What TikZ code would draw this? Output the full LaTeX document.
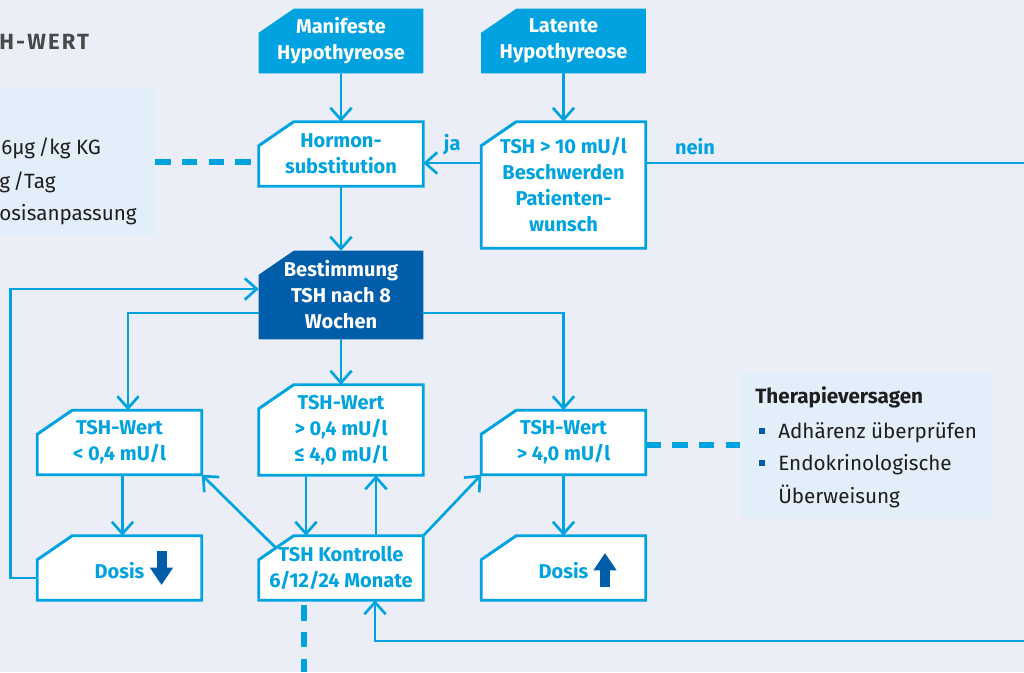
\documentclass[tikz,border=0pt]{standalone}
\usepackage{fontspec}
\setmainfont{Fira Sans}
\newfontfamily\spacedfont[LetterSpace=10]{Fira Sans}
\usepackage{tikz}
\usetikzlibrary{arrows.meta,calc,backgrounds}
\usepackage{xcolor}
\definecolor{tshcyan}{HTML}{00A3E0}
\definecolor{tshdark}{HTML}{005DA9}
\definecolor{tshbg}{HTML}{EBEEF7}
\definecolor{tshpale}{HTML}{E2EEF9}
\definecolor{tshgrey}{HTML}{48494B}
\definecolor{tshink}{HTML}{1E1E1E}

% Rahmen mit abgeschraegter Ecke oben links
\newcommand{\cutframe}[2]{%
  \path[#2] ($(#1.north west)+(0,24)$) -- ($(#1.north west)+(35,0)$)
    -- (#1.north east) -- (#1.south east) -- (#1.south west) -- cycle;}

\begin{document}
\begin{tikzpicture}[
    x=0.75pt, y=-0.75pt,
    box/.style={minimum width=123pt, minimum height=48pt, inner sep=0pt,
        align=center, text=tshcyan, font=\bfseries\fontsize{15}{19.5}\selectfont,
        execute at begin node={\rule{0pt}{15.5pt}}},
    fullbox/.style={box, text=white},
    frame/.style={draw=tshcyan, line width=2.2pt, fill=white},
    conn/.style={draw=tshcyan, line width=2pt},
    arr/.style={conn, -{Straight Barb[length=9pt,width=16pt]}},
    dashlink/.style={draw=tshcyan, line width=3.8pt, dash pattern=on 11.5pt off 8.5pt},
    lbl/.style={text=tshcyan, font=\bfseries\fontsize{15}{17}\selectfont},
    infobox/.style={fill=tshpale, inner sep=0pt},
    info/.style={anchor=base west, inner sep=0pt, text=tshink, font=\fontsize{15.5}{17}\selectfont},
    dosispfeil/.style={draw=tshdark, line width=7.5pt, -{Triangle[length=13pt,width=16.5pt]}}
]
\useasboundingbox (0,0) rectangle (1024,672);

% Ueberschrift und Infokaesten
\node[anchor=base west, inner sep=0pt, text=tshgrey,
      font=\spacedfont\bfseries\fontsize{16.5}{19}\selectfont] (titel) at (-1,49) {H-WERT};
\node[infobox, minimum width=117.75pt, minimum height=111pt] (dosisinfo) at (76.5,162) {};
\node[info] (dosis1) at (1,154) {6µg\,/kg KG};
\node[info] (dosis2) at (-1,188) {g\,/Tag};
\node[info] (dosis3) at (-1,220) {osisanpassung};

\node[infobox, minimum width=189.75pt, minimum height=109.5pt] (therapie) at (866.5,445) {};
\node[info, font=\bfseries\fontsize{15.5}{17}\selectfont] (versagen) at (755,403) {Therapieversagen};
\node[info] (adhaerenz) at (778,438) {Adhärenz überprüfen};
\node[info] (endo) at (778,470) {Endokrinologische};
\node[info] (ueberw) at (778,503) {Überweisung};
\foreach \b in {adhaerenz,endo}
  \fill[tshdark] ($(\b.base west)+(-19,-10)$) rectangle ++(6,6);

% Flussdiagramm
\node[fullbox] (manif) at (341,41) {Manifeste\\Hypothyreose};
\node[fullbox] (latent) at (563.5,41) {Latente\\Hypothyreose};
\node[box] (hormon) at (341,154) {Hormon-\\substitution};
\node[box, minimum height=94.5pt] (tshten) at (563.5,185) {TSH > 10 mU/l\\Beschwerden\\Patienten-\\wunsch};
\node[fullbox, minimum height=66pt] (bestimm) at (341,295) {Bestimmung\\TSH nach 8\\Wochen};
\node[box] (low) at (119.5,442.5) {TSH-Wert\\< 0,4 mU/l};
\node[box, minimum height=67.5pt] (normal) at (341,430) {TSH-Wert\\> 0,4 mU/l\\≤ 4,0 mU/l};
\node[box] (high) at (563.5,442.5) {TSH-Wert\\> 4,0 mU/l};
\node[box] (dosisab) at (119.5,568) {Dosis};
\node[box] (kontrolle) at (341,568) {TSH Kontrolle\\6/12/24 Monate};
\node[box] (dosisauf) at (563.5,568) {Dosis};

\coordinate (nein) at (1024,163);
\coordinate (rueck) at (1024,641);
\coordinate (weiter) at (304,672);

\draw[arr] (manif) -- (hormon);
\draw[arr] (latent) -- (tshten);
\draw[arr] (tshten.west |- nein) -- (hormon.east |- nein) node[lbl, midway, above=2pt] {ja};
\draw[conn] (tshten.east |- nein) -- (nein) node[lbl, pos=0.13, above=2pt] {nein};
\draw[arr] (hormon) -- (bestimm);
\draw[arr] ($(bestimm.west)+(0,18)$) -| ($(low.north)+(8.5,0)$);
\draw[arr] ($(bestimm.east)+(0,18)$) -| (high.north);
\draw[arr] (bestimm) -- (normal);
\draw[arr] ($(low.south)+(3,0)$) -- ($(dosisab.north)+(3,0)$);
\draw[arr] (high) -- (dosisauf);
\draw[arr] ($(dosisab.west)+(0,10)$) -- ++(-27,0) |- ($(bestimm.west)+(0,-6)$);
\draw[arr] ($(normal.south)+(-35,0)$) -- ($(kontrolle.north)+(-35,0)$);
\draw[arr] ($(kontrolle.north)+(35,0)$) -- ($(normal.south)+(35,0)$);
\draw[arr] ($(kontrolle.north west)+(17,12)$) -- (low.south east);
\draw[arr] (kontrolle.north east) -- (high.south west);
\draw[arr] (rueck) -| ($(kontrolle.south)+(34,0)$);
% gestrichelte Verweise
\draw[dashlink] (dosisinfo.east) -- (dosisinfo.east -| hormon.west);
\draw[dashlink] (high.east |- therapie) -- (therapie.west);
\draw[dashlink] ($(kontrolle.south -| weiter)+(0,5)$) -- (weiter);
% Dosispfeile
\draw[dosispfeil] ($(dosisab.center)+(42,-17)$) -- ++(0,34);
\draw[dosispfeil] ($(dosisauf.center)+(41.5,19)$) -- ++(0,-34);

\begin{scope}[on background layer]
  \fill[tshbg] (0,0) rectangle (1024,672);
  \foreach \n in {manif,latent} \cutframe{\n}{fill=tshcyan};
  \cutframe{bestimm}{fill=tshdark}
  \foreach \n in {hormon,tshten,low,normal,high,dosisab,kontrolle,dosisauf}
    \cutframe{\n}{frame};
\end{scope}
\end{tikzpicture}
\end{document}
